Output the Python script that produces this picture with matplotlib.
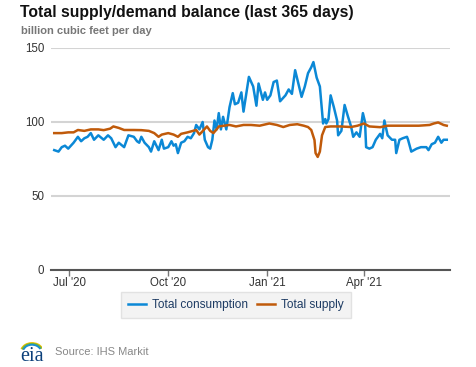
import numpy as np
import pandas as pd
import matplotlib
matplotlib.use("Agg")
import matplotlib.pyplot as plt
from matplotlib.patches import Arc

# consumption readings (date, bcf/d)
cons_dates = [
    "2020-06-17", "2020-06-21", "2020-06-24", "2020-06-27", "2020-06-30", "2020-07-05",
    "2020-07-09", "2020-07-12", "2020-07-15", "2020-07-18", "2020-07-21", "2020-07-24",
    "2020-07-28", "2020-08-02", "2020-08-06", "2020-08-09", "2020-08-13", "2020-08-16",
    "2020-08-21", "2020-08-25", "2020-08-30", "2020-09-02", "2020-09-04", "2020-09-06",
    "2020-09-09", "2020-09-13", "2020-09-15", "2020-09-18", "2020-09-22", "2020-09-25",
    "2020-09-27", "2020-10-01", "2020-10-04", "2020-10-06", "2020-10-08", "2020-10-10",
    "2020-10-13", "2020-10-16", "2020-10-19", "2020-10-22", "2020-10-25", "2020-10-27",
    "2020-10-30", "2020-11-02", "2020-11-04", "2020-11-07", "2020-11-09", "2020-11-11",
    "2020-11-13", "2020-11-15", "2020-11-17", "2020-11-19", "2020-11-21", "2020-11-24",
    "2020-11-27", "2020-11-30", "2020-12-02", "2020-12-05", "2020-12-08", "2020-12-10",
    "2020-12-15", "2020-12-19", "2020-12-22", "2020-12-24", "2020-12-28", "2020-12-30",
    "2021-01-01", "2021-01-04", "2021-01-07", "2021-01-10", "2021-01-13", "2021-01-18",
    "2021-01-21", "2021-01-24", "2021-01-27", "2021-01-30", "2021-02-02", "2021-02-05",
    "2021-02-08", "2021-02-11", "2021-02-13", "2021-02-16", "2021-02-19", "2021-02-22",
    "2021-02-24", "2021-02-25", "2021-02-27", "2021-03-01", "2021-03-04", "2021-03-07",
    "2021-03-08", "2021-03-11", "2021-03-14", "2021-03-17", "2021-03-20", "2021-03-22",
    "2021-03-25", "2021-03-28", "2021-03-31", "2021-04-02", "2021-04-03", "2021-04-06",
    "2021-04-09", "2021-04-12", "2021-04-16", "2021-04-18", "2021-04-20", "2021-04-23",
    "2021-04-27", "2021-04-30", "2021-05-01", "2021-05-04", "2021-05-07", "2021-05-11",
    "2021-05-12", "2021-05-15", "2021-05-20", "2021-05-24", "2021-05-29", "2021-05-31",
    "2021-06-03", "2021-06-06", "2021-06-09", "2021-06-12", "2021-06-14", "2021-06-17",
]
cons_vals = [
    81, 80, 83, 84, 82, 86,
    90, 87, 89, 90, 92.5, 88,
    91, 88, 91, 89, 83, 86,
    83, 91, 90, 87, 86, 90,
    86, 83, 80, 87, 81, 88,
    82, 83, 87, 84, 85, 79,
    86, 87, 90, 89, 92.5, 98,
    95, 100, 88, 83, 82, 88,
    101, 95, 106, 95, 103.5, 95,
    110, 119.5, 112, 113, 120, 107,
    130.5, 124, 111, 126, 115, 120,
    115, 118, 127, 128, 114, 118,
    122, 119, 135, 126, 117, 124,
    133, 137, 140.5, 130, 124, 99,
    102, 99, 102, 118, 110, 101,
    91, 94, 111.5, 104, 97, 90,
    93, 90, 106, 100, 83, 82,
    83, 88, 92, 89, 101, 91,
    88, 88, 79, 88, 89, 90,
    88, 80, 82, 83, 83, 81,
    85, 86, 90, 86, 88, 88,
]

# supply readings (date, bcf/d)
sup_dates = [
    "2020-06-17", "2020-06-24", "2020-06-30", "2020-07-05", "2020-07-09", "2020-07-15",
    "2020-07-18", "2020-07-21", "2020-07-28", "2020-08-02", "2020-08-08", "2020-08-11",
    "2020-08-16", "2020-08-21", "2020-08-30", "2020-09-06", "2020-09-13", "2020-09-18",
    "2020-09-22", "2020-09-25", "2020-10-01", "2020-10-06", "2020-10-10", "2020-10-13",
    "2020-10-19", "2020-10-27", "2020-10-30", "2020-11-03", "2020-11-06", "2020-11-09",
    "2020-11-12", "2020-11-15", "2020-11-17", "2020-11-27", "2020-12-03", "2020-12-10",
    "2020-12-17", "2020-12-25", "2021-01-03", "2021-01-10", "2021-01-16", "2021-01-22",
    "2021-01-29", "2021-02-04", "2021-02-08", "2021-02-11", "2021-02-14", "2021-02-15",
    "2021-02-17", "2021-02-19", "2021-02-21", "2021-02-24", "2021-03-01", "2021-03-10",
    "2021-03-20", "2021-03-26", "2021-04-01", "2021-04-06", "2021-04-16", "2021-04-23",
    "2021-05-01", "2021-05-12", "2021-05-22", "2021-06-01", "2021-06-05", "2021-06-09",
    "2021-06-14", "2021-06-17",
]
sup_vals = [
    92.5, 92.5, 93, 93, 94.6, 94,
    94.5, 95, 95, 94.5, 95.5, 97,
    96, 94.6, 94.6, 94.5, 94, 92.5,
    90, 91.5, 92.5, 91.5, 90, 92,
    93, 94.6, 91.5, 94.6, 97, 94,
    92.5, 95, 97, 98, 97, 98,
    98, 97.5, 99, 98, 96.6, 98,
    98.5, 97.5, 96.6, 94.6, 87.8, 79,
    76.4, 80, 91, 96.6, 97, 97,
    96.6, 97.5, 99, 97, 96.5, 97.5,
    97.5, 97.5, 97.5, 98, 99, 99.7,
    98, 97.5,
]

tick_dates = ["2020-07-01", "2020-10-01", "2021-01-01", "2021-04-01"]
tick_labels = ["Jul '20", "Oct '20", "Jan '21", "Apr '21"]
y_ticks = [0, 50, 100, 150]

plt.rcParams["font.family"] = ["Liberation Sans", "DejaVu Sans"]

fig = plt.figure(figsize=(4.77, 3.67), dpi=100)
ax = fig.add_axes([51 / 477, 97 / 367, 399 / 477, 222 / 367])

blue = "#0b88d6"
orange = "#c05a0a"

ax.plot(pd.to_datetime(cons_dates), cons_vals, color=blue, lw=1.8, zorder=3)
ax.plot(pd.to_datetime(sup_dates), sup_vals, color=orange, lw=1.8, zorder=3)

ax.set_xlim(pd.Timestamp("2020-06-14"), pd.Timestamp("2021-06-20"))
ax.set_ylim(0, 150)
ax.set_yticks(y_ticks)
ax.set_xticks(pd.to_datetime(tick_dates))
ax.set_xticklabels(tick_labels)

ax.grid(axis="y", color="#d4d4d4", lw=1.5, zorder=0)
for s in ["top", "right", "left"]:
    ax.spines[s].set_visible(False)
ax.spines["bottom"].set_color("#555555")
ax.spines["bottom"].set_linewidth(1.5)
ax.tick_params(axis="y", length=0, pad=5, labelsize=8.3, labelcolor="#333333")
ax.tick_params(axis="x", length=4, width=1, color="#777777", pad=1,
               labelsize=8.3, labelcolor="#333333")

fig.text(20 / 477, 1 - 13 / 367, "Total supply/demand balance (last 365 days)",
         fontsize=11.3, fontweight="bold", color="#111111", va="center")
fig.text(21 / 477, 1 - 31 / 367, "billion cubic feet per day",
         fontsize=8, fontweight="bold", color="#777777", va="center")

leg = fig.legend(["Total consumption", "Total supply"], loc="center",
                 bbox_to_anchor=(236 / 477, 1 - 305 / 367), ncol=2,
                 frameon=True, fontsize=8.6, handlelength=1.5, handletextpad=0.5,
                 columnspacing=0.8, borderpad=0.6, fancybox=False)
leg.get_frame().set_facecolor("#f0f0f0")
leg.get_frame().set_edgecolor("#dddddd")
for t in leg.get_texts():
    t.set_color("#1d3b63")

# eia logo and source
fig.text(20 / 477, 1 - 361 / 367, "eia", family="Liberation Serif", fontsize=14.5,
         color="#0b3f7a", va="baseline")
lax = fig.add_axes([18 / 477, 1 - 356 / 367, 24 / 477, 20 / 367])
lax.set_xlim(0, 24)
lax.set_ylim(0, 20)
lax.axis("off")
for r, c, lw in zip([11, 10, 9], ["#f2c200", "#6cb33f", "#1a8fd1"], [1.6, 1.6, 1.3]):
    lax.add_patch(Arc((14, 4), 2 * r, r * 1.6, theta1=20, theta2=165, color=c, lw=lw))
fig.text(55 / 477, 1 - 352 / 367, "Source: IHS Markit", fontsize=8,
         color="#888888", va="center")

fig.savefig("out.png", dpi=100)
